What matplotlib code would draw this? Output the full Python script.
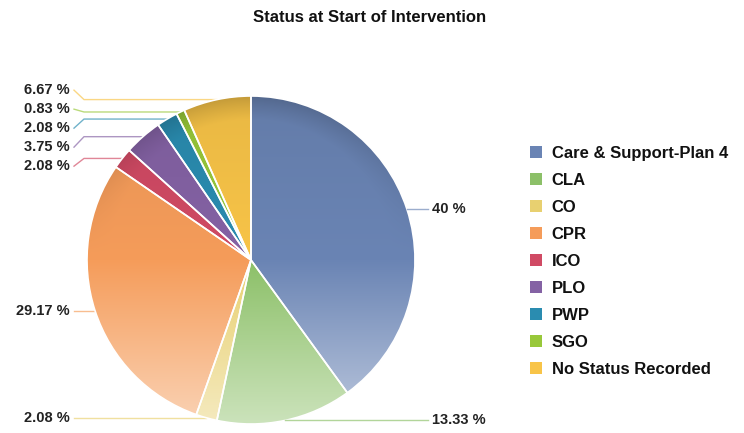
#!/usr/bin/python
# Status at Start of Intervention - pie chart recreation

import numpy as np
import matplotlib
matplotlib.use('Agg')
import matplotlib.pyplot as plt
from matplotlib.patches import Patch
from matplotlib.colors import to_rgb

#################################
# Data
#################################
categories = ['Care & Support-Plan 4', 'CLA', 'CO', 'CPR', 'ICO',
              'PLO', 'PWP', 'SGO', 'No Status Recorded']
percents = [40, 13.33, 2.08, 29.17, 2.08, 3.75, 2.08, 0.83, 6.67]
label_texts = ['40 %', '13.33 %', '2.08 %', '29.17 %', '2.08 %',
               '3.75 %', '2.08 %', '0.83 %', '6.67 %']
base_colors = ['#6a84b4', '#8cc068', '#e8d070', '#f59c5a', '#d04a64',
               '#8462a4', '#2a8cb0', '#98c83a', '#f8c448']
title = 'Status at Start of Intervention'

#################################
# Layout (pixel units)
#################################
W, H = 744, 433
CX, CY, R = 251, 260, 164          # pie centre / radius in pixels (y down)
FONT = 'Liberation Sans'


def shade(base, t):
    c = np.array(to_rgb(base))
    return c + (1 - c) * 0.55 * max(t - 0.5, 0) * 2


fig = plt.figure(figsize=(W / 100, H / 100), dpi=100)
ax = fig.add_axes([0, 0, 1, 1])

cy_data = H - CY
wedges, _ = ax.pie(percents, center=(CX, cy_data), radius=R, startangle=90,
                   counterclock=False, colors=base_colors,
                   wedgeprops=dict(edgecolor='white', linewidth=1.2),
                   frame=True)
ax.set_xlim(0, W)
ax.set_ylim(0, H)
ax.set_aspect('equal')
ax.axis('off')

# gradient fill per wedge
N = 300
yy, xx = np.mgrid[0:N, 0:N]
tt = yy / (N - 1)
dd = np.hypot(xx / (N - 1) * 2 - 1, yy / (N - 1) * 2 - 1)
top = 1 - 0.06 * np.clip(1 - 2 * tt, 0, 1)
lighten = 0.55 * np.clip(tt - 0.5, 0, 0.5) * 2
rim = np.clip((dd - 0.86) / 0.14, 0, 1) * np.clip(1 - 2 * tt, 0, 1) ** 1.5 * 0.16
for w, col in zip(wedges, base_colors):
    img = np.zeros((N, N, 3))
    c0 = np.array(to_rgb(col))
    for ch in range(3):
        v = c0[ch] * top
        v = v + (1 - v) * lighten
        img[:, :, ch] = v * (1 - rim)
    im = ax.imshow(img, extent=[CX - R, CX + R, cy_data - R, cy_data + R],
                   origin='upper', zorder=1, interpolation='bilinear')
    im.set_clip_path(w)
    w.set_facecolor('none')
    w.set_zorder(2)

# leader lines and labels
vals = np.array(percents)
cum = np.cumsum(vals) - vals / 2
mid = np.deg2rad(90 - cum / vals.sum() * 360)
rim_x = CX + R * np.cos(mid)
rim_y = CY - R * np.sin(mid)          # pixel y (down)

left = [i for i in range(len(vals)) if rim_x[i] < CX]
right = [i for i in range(len(vals)) if rim_x[i] >= CX]


def spread(idx, gap=19, shift=3):
    idx = sorted(idx, key=lambda i: rim_y[i])
    ys = [rim_y[i] for i in idx]
    moved = [False] * len(ys)
    for _ in range(300):
        for j in range(1, len(ys)):
            d = ys[j] - ys[j - 1]
            if d < gap:
                ys[j - 1] -= (gap - d) / 2
                ys[j] += (gap - d) / 2
                moved[j - 1] = moved[j] = True
    return dict(zip(idx, [y + shift if m else y for y, m in zip(ys, moved)]))


ly = spread(left)
ly.update(spread(right))

for i in range(len(vals)):
    lc = shade(base_colors[i], 0.8)
    y_lab = H - ly[i]
    y_rim = H - rim_y[i]
    if i in left:
        xs = [74, 84, rim_x[i]]
        ys = [y_lab, y_rim, y_rim]
        ax.plot(xs, ys, color=lc, lw=1, zorder=0)
        ax.text(70, y_lab, label_texts[i], ha='right', va='center',
                fontsize=10.5, fontweight='bold', family=FONT, color='#222222')
    else:
        ax.plot([rim_x[i], 428], [y_rim, y_lab], color=lc, lw=1, zorder=3)
        ax.text(432, y_lab, label_texts[i], ha='left', va='center',
                fontsize=10.5, fontweight='bold', family=FONT, color='#222222')

# title
ax.text(370, H - 18, title, ha='center', va='center', fontsize=12,
        fontweight='bold', family=FONT, color='#111111')

# legend
handles = [Patch(facecolor=c, edgecolor='none') for c in base_colors]
leg = ax.legend(handles, categories, loc='upper left',
                bbox_to_anchor=(530 / W, 1 - 146 / H), frameon=False,
                prop=dict(family=FONT, weight='bold', size=12),
                handlelength=0.7, handleheight=0.7, handletextpad=0.6,
                labelspacing=0.72, borderaxespad=0, borderpad=0)
for t in leg.get_texts():
    t.set_color('#111111')

fig.savefig('out.png', dpi=100, facecolor='white')
